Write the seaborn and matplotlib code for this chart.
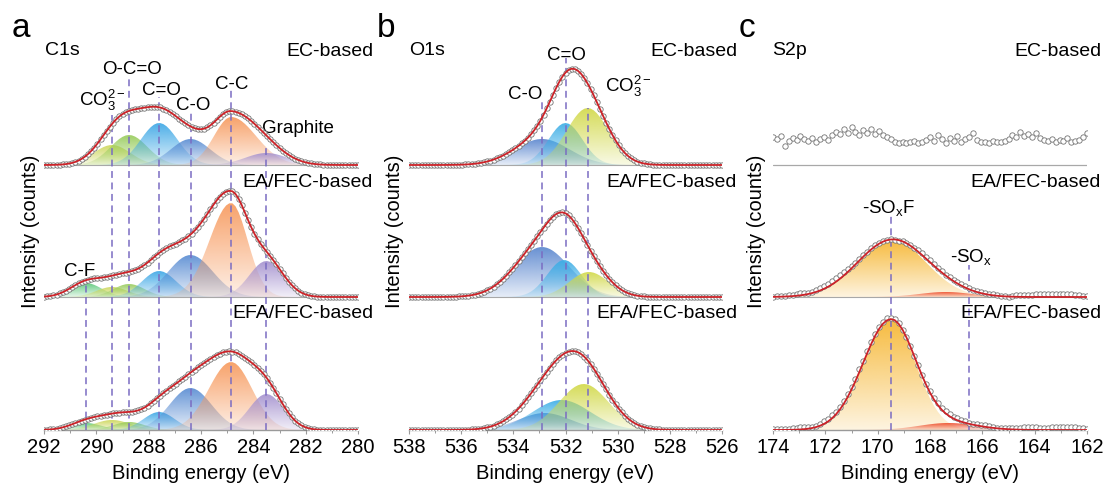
import numpy as np
import matplotlib
matplotlib.use("Agg")
import matplotlib.pyplot as plt
import seaborn as sns
from matplotlib.colors import to_rgb
from matplotlib.patches import Polygon
from matplotlib.ticker import MultipleLocator

# ---------------- data ----------------
samples = ["EC-based", "EA/FEC-based", "EFA/FEC-based"]

# C1s fitted components (center eV, height, sigma high-BE side, sigma low-BE side)
c1s_labels = ["C-F", r"CO$_3^{2-}$", "O-C=O", "C=O", "C-O", "C-C", "Graphite"]
c1s_colors = ["#5cc97a", "#cdd75a", "#98cc5c", "#3ea8e6", "#5a8dd3", "#f79a5e", "#a592cf"]
c1s_centers = [290.4, 289.4, 288.75, 287.6, 286.4, 284.85, 283.5]
c1s_heights = [[0, 20, 30, 42, 26, 48, 12],
               [14, 10, 13, 26, 42, 94, 36],
               [7, 10, 8, 18, 42, 68, 36]]
c1s_sig_hi = [[0.6, 0.7, 0.7, 0.7, 0.75, 0.65, 0.8],
              [0.6, 0.6, 0.6, 0.65, 0.85, 0.82, 0.65],
              [0.6, 0.7, 0.6, 0.6, 0.8, 0.85, 0.65]]
c1s_sig_lo = [[0.6, 0.7, 0.7, 0.7, 0.75, 0.95, 0.8],
              [0.6, 0.6, 0.6, 0.65, 0.85, 0.63, 0.65],
              [0.6, 0.7, 0.6, 0.6, 0.8, 0.8, 0.65]]

# O1s fitted components
o1s_labels = ["C-O", "C=O", r"CO$_3^{2-}$"]
o1s_colors = ["#5b87cf", "#3daee6", "#d2d94a"]
o1s_centers = [[532.9, 532.0, 531.15], [532.9, 532.05, 531.1], [532.8, 532.15, 531.3]]
o1s_heights = [[26, 42, 57], [50, 37, 25], [17, 30, 46]]
o1s_sig = [[1.05, 0.65, 0.8], [1.05, 0.65, 0.75], [1.0, 1.1, 0.95]]

# S2p fitted components (EA/FEC, EFA/FEC)
s2p_labels = [r"-SO$_\mathrm{x}$F", r"-SO$_\mathrm{x}$"]
s2p_colors = ["#f6b52e", "#ee4e2e"]
s2p_centers = [[169.45, 167.4], [169.5, 167.3]]
s2p_heights = [[57, 5], [110, 7]]
s2p_sig_hi = [[1.32, 1.0], [1.06, 1.1]]
s2p_sig_lo = [[1.3, 1.0], [0.95, 1.1]]
# S2p measured counts, EC-based (no sulfur signal), 174 -> 162 eV
s2p_ec_counts = [28, 26, 29, 19, 24, 27, 25, 29, 26,
                 24, 27, 23, 26, 28, 25, 30, 33, 31,
                 36, 32, 38, 33, 30, 35, 32, 36, 31, 34, 30, 28, 26,
                 23, 22, 23, 22, 23, 24, 22, 23, 25,
                 28, 24, 30, 26, 22, 27, 24, 29, 23, 26, 28, 32,
                 25, 23, 23, 22, 24, 23, 23, 24, 26,
                 30, 28, 33, 29, 31, 28, 32, 27,
                 25, 24, 26, 23, 25, 24, 27, 23, 24, 25, 28, 32]
# S2p measured minus fit (residuals), EA/FEC and EFA/FEC
s2p_ea_resid = [0, 0.5, 0.5, 1, 1, 1.5, 2, 2, 1.5, 1,
                1, 1.5, 2, 2.5, 3, 3.5, 3.5, 4, 4, 3.5, 2.5,
                2, 1.5, 1.5, 1, 1, 1,
                1, 1, 0.5, 0, -0.5, -0.5, 0, 0.5, 1,
                1, 1.5, 2, 2, 2, 1.5, 1.5, 1,
                1, 1, 1, 1.5, 1.5, 1.5, 1, 1, 1.5, 1.5,
                1.5, 1, 1, 0.5, 0.5, 0, 0,
                1, 1.5, 2, 2, 1.5,
                2, 2.5, 3, 3, 3, 3, 3, 3, 3, 3, 2.5,
                2, 1.5, 1, 0.5]
s2p_efa_resid = [1, 1, 1, 0.5, 1, 1.5, 2, 2.5, 2, 1.5,
                 1, 1.5, 2, 2.5, 3, 3, 3, 3, 3, 3, 3,
                 2.5, 2.5, 2, 2, 2, 2,
                 2, 2, 2, 1.5, 1, 0.5, 0, 0, 0.5,
                 0.5, 1, 1, 1, 1.5, 1.5, 2, 2,
                 2, 2, 2, 2, 1.5, 1.5, 1, 1, 1.5, 1.5,
                 1.5, 1, 1, 0.5, 0.5, 0.5, 1,
                 1, 1.5, 2, 2.5, 3,
                 3, 2.5, 2, 1.5, 2, 2.5, 3, 3, 3, 3, 3,
                 2.5, 2, 1.5, 1]

# ---------------- style ----------------
sns.set_theme(style="white")
plt.rcParams['font.family'] = ['Liberation Sans', 'DejaVu Sans']
plt.rcParams['mathtext.fontset'] = 'custom'
plt.rcParams['mathtext.rm'] = 'Liberation Sans'
plt.rcParams['mathtext.it'] = 'Liberation Sans:italic'
plt.rcParams['mathtext.bf'] = 'Liberation Sans:bold'
plt.rcParams['text.color'] = 'black'
plt.rcParams['axes.labelcolor'] = 'black'
plt.rcParams['xtick.color'] = 'black'

W, H = 1107, 490
fig = plt.figure(figsize=(W / 100, H / 100), dpi=100)
fig.patch.set_facecolor("white")

OFFS = [265, 133, 0]
DASH = "#7a6cc2"
RED = "#cc2228"
GRAY = "#9a9a9a"


def comp(x, c, h, shi, slo):
    s = np.where(x >= c, shi, slo)
    return h * np.exp(-0.5 * ((x - c) / s) ** 2)


def grad_fill(ax, x, base, y, color, z):
    top = base + y.max()
    verts = np.column_stack([np.r_[x, x[::-1]], np.r_[base + y, np.full(len(x), base)]])
    patch = Polygon(verts, closed=True, facecolor="none", edgecolor="none")
    ax.add_patch(patch)
    img = np.ones((100, 1, 4))
    img[..., :3] = to_rgb(color)
    img[:, 0, 3] = np.linspace(0.92, 0.15, 100)
    im = ax.imshow(img, extent=[x.min(), x.max(), base, top], origin="upper",
                   aspect="auto", zorder=z, interpolation="bilinear")
    im.set_clip_path(patch)


def draw_data(ax, x, base, env, data):
    sns.scatterplot(x=x, y=base + data, ax=ax, s=15, color="white",
                    edgecolor="#747474", linewidth=0.6, zorder=4, legend=False)
    if env is not None:
        sns.lineplot(x=x, y=base + env, ax=ax, color=RED, linewidth=1.3,
                     zorder=5, estimator=None)


def add_ax(left, right):
    return fig.add_axes([left / W, 1 - 430 / H, (right - left) / W, 410 / H])


def style_ax(ax, hi, lo):
    ax.set_xlim(hi, lo)
    ax.set_ylim(0, 410)
    for s in ["top", "left", "right"]:
        ax.spines[s].set_visible(False)
    ax.spines["bottom"].set_color(GRAY)
    ax.spines["bottom"].set_linewidth(1.0)
    ax.set_yticks([])
    ax.xaxis.set_major_locator(MultipleLocator(2))
    ax.xaxis.set_minor_locator(MultipleLocator(1))
    ax.tick_params(axis="x", which="major", direction="out", length=3, width=0.8,
                   color=GRAY, labelcolor="black", labelsize=14.5, pad=3, bottom=True)
    ax.tick_params(axis="x", which="minor", direction="out", length=2, width=0.7,
                   color=GRAY, bottom=True)
    ax.set_xlabel("Binding energy (eV)", fontsize=14.5, labelpad=5, color="black")
    ax.set_facecolor("none")


def ftext(px, py, s, **kw):
    fig.text(px / W, 1 - py / H, s, color="black", **kw)


# ---------------- panel a: C1s ----------------
axa = add_ax(44, 358)
xa = np.linspace(292, 280, 101)
for k in range(3):
    base = OFFS[k]
    env = np.zeros_like(xa)
    for j in range(len(c1s_centers)):
        h = c1s_heights[k][j]
        if h <= 0:
            continue
        y = comp(xa, c1s_centers[j], h, c1s_sig_hi[k][j], c1s_sig_lo[k][j])
        grad_fill(axa, xa, base, y, c1s_colors[j], 1 + j * 0.01)
        env += y
    if base > 0:
        axa.plot([292, 280], [base, base], color="#a8a8a8", lw=0.8, zorder=2.5)
    draw_data(axa, xa, base, env, env)

for xv, top in [(290.4, 147), (289.4, 315), (288.75, 352), (287.6, 333),
                (286.4, 318), (284.85, 340), (283.5, 282)]:
    axa.vlines(xv, 0, top, colors=DASH, linestyles=(0, (4.5, 3)), linewidth=1.1, zorder=3.5)

lab_fs = 13.5
axa.text(289.76, 324, c1s_labels[1], ha="center", va="baseline", fontsize=lab_fs)
axa.text(288.64, 356, c1s_labels[2], ha="center", va="baseline", fontsize=lab_fs)
axa.text(287.53, 335, c1s_labels[3], ha="center", va="baseline", fontsize=lab_fs)
axa.text(286.31, 320, c1s_labels[4], ha="center", va="baseline", fontsize=lab_fs)
axa.text(284.82, 340.7, c1s_labels[5], ha="center", va="baseline", fontsize=lab_fs)
axa.text(283.67, 296.7, c1s_labels[6], ha="left", va="baseline", fontsize=lab_fs)
axa.text(290.62, 154, c1s_labels[0], ha="center", va="baseline", fontsize=lab_fs)
style_ax(axa, 292, 280)

# ---------------- panel b: O1s ----------------
axb = add_ax(409, 722)
xb = np.linspace(538, 526, 101)
for k in range(3):
    base = OFFS[k]
    env = np.zeros_like(xb)
    for j in range(3):
        y = comp(xb, o1s_centers[k][j], o1s_heights[k][j], o1s_sig[k][j], o1s_sig[k][j])
        grad_fill(axb, xb, base, y, o1s_colors[j], 1 + j * 0.01)
        env += y
    if base > 0:
        axb.plot([538, 526], [base, base], color="#a8a8a8", lw=0.8, zorder=2.5)
    draw_data(axb, xb, base, env, env)

for xv, top in [(532.9, 330), (532.0, 372), (531.15, 322)]:
    axb.vlines(xv, 0, top, colors=DASH, linestyles=(0, (4.5, 3)), linewidth=1.1, zorder=3.5)
axb.text(531.98, 370, o1s_labels[1], ha="center", va="baseline", fontsize=lab_fs)
axb.text(533.55, 330.7, o1s_labels[0], ha="center", va="baseline", fontsize=lab_fs)
axb.text(530.48, 338.3, o1s_labels[2], ha="left", va="baseline", fontsize=lab_fs)
style_ax(axb, 538, 526)

# ---------------- panel c: S2p ----------------
axc = add_ax(773, 1087)
xc = np.linspace(174, 162, len(s2p_ec_counts))
axc.plot([174, 162], [OFFS[0], OFFS[0]], color="#a8a8a8", lw=0.9, zorder=2.5)
draw_data(axc, xc, OFFS[0], None, np.array(s2p_ec_counts, dtype=float))
resids = [s2p_ea_resid, s2p_efa_resid]
for k in range(2):
    base = OFFS[k + 1]
    env = np.zeros_like(xc)
    for j in range(2):
        y = comp(xc, s2p_centers[k][j], s2p_heights[k][j], s2p_sig_hi[k][j], s2p_sig_lo[k][j])
        grad_fill(axc, xc, base, y, s2p_colors[j], 1 + j * 0.01)
        env += y
    if base > 0:
        axc.plot([174, 162], [base, base], color="#a8a8a8", lw=0.8, zorder=2.5)
    draw_data(axc, xc, base, env, env + np.array(resids[k]))

for xv, top in [(169.5, 215), (166.5, 165)]:
    axc.vlines(xv, 0, top, colors=DASH, linestyles=(0, (4.5, 3)), linewidth=1.1, zorder=3.5)
axc.text(169.57, 216.7, s2p_labels[0], ha="center", va="baseline", fontsize=lab_fs)
axc.text(166.43, 168.3, s2p_labels[1], ha="center", va="baseline", fontsize=lab_fs)
style_ax(axc, 174, 162)

# ---------------- text decorations ----------------
for (lx, letter, tx, title, rx, ylx) in [(12, "a", 45, "C1s", 373, 30),
                                          (377, "b", 409, "O1s", 737, 394),
                                          (739, "c", 772, "S2p", 1101, 756)]:
    ftext(lx, 37, letter, fontsize=24, ha="left", va="baseline")
    ftext(tx, 55, title, fontsize=14, ha="left", va="baseline")
    for s, by in zip(samples, [56, 187, 318]):
        ftext(rx, by, s, fontsize=14, ha="right", va="baseline")
    ftext(ylx, 231, "Intensity (counts)", fontsize=14.5, rotation=90,
          ha="center", va="center")

fig.savefig("out.png", dpi=100, facecolor="white")
